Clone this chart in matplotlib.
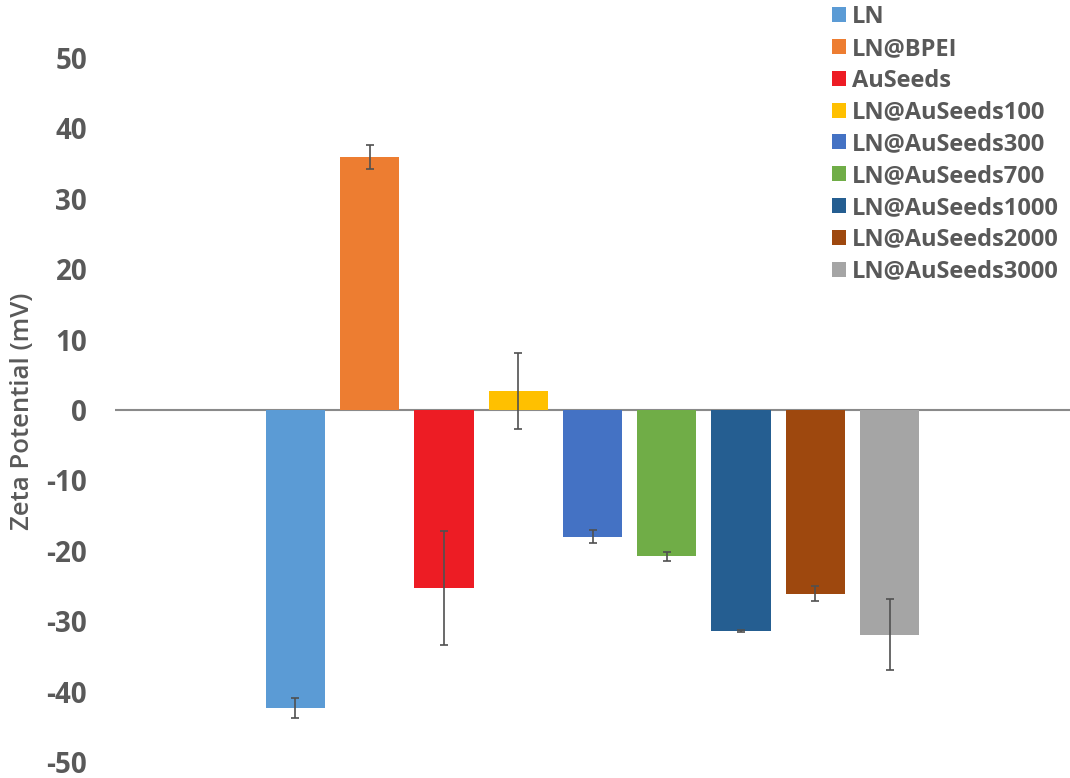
import matplotlib.pyplot as plt
import numpy as np

plt.rcParams['font.family'] = ['Open Sans', 'DejaVu Sans']

samples = ["LN", "LN@BPEI", "AuSeeds", "LN@AuSeeds100", "LN@AuSeeds300",
           "LN@AuSeeds700", "LN@AuSeeds1000", "LN@AuSeeds2000", "LN@AuSeeds3000"]
zeta = [-42.3, 36.0, -25.3, 2.7, -18.0, -20.8, -31.4, -26.1, -31.9]
zeta_err = [1.4, 1.7, 8.1, 5.4, 0.95, 0.6, 0.2, 1.1, 5.1]
colors = ["#5B9BD5", "#ED7D31", "#ED1C24", "#FFC000", "#4472C4",
          "#70AD47", "#255E91", "#9E480E", "#A5A5A5"]
yticks = [50, 40, 30, 20, 10, 0, -10, -20, -30, -40, -50]

fig = plt.figure(figsize=(10.7, 7.78), dpi=100)
ax = fig.add_axes([115 / 1070, 16 / 778, 1 - 115 / 1070, 704 / 778])

x = np.arange(len(samples))
for i in range(len(samples)):
    ax.bar(x[i], zeta[i], width=0.8, color=colors[i], label=samples[i], zorder=2)
    ax.errorbar(x[i], zeta[i], yerr=zeta_err[i], fmt="none", ecolor="#505050",
                elinewidth=1.2, capsize=3, capthick=1.2, zorder=3)

ax.axhline(0, color="#8a8a8a", lw=1.5, zorder=1)
ax.set_xlim(-2.43, 10.43)
ax.set_ylim(-50, 50)
ax.set_yticks(yticks)
ax.set_yticklabels([str(t) for t in yticks], fontsize=20, fontweight="bold", color="#595959")
ax.tick_params(axis="y", length=0, pad=20)
ax.set_xticks([])
for s in ax.spines.values():
    s.set_visible(False)

fig.text(23 / 1070, 1 - 411 / 778, "Zeta Potential (mV)", rotation=90, ha="center",
         va="center", fontsize=18.5, fontweight="semibold", color="#595959")

leg = ax.legend(loc="upper left", bbox_to_anchor=(832 / 1070, 1 - 5 / 778),
                bbox_transform=fig.transFigure, frameon=False, fontsize=17,
                handlelength=0.6, handleheight=0.6, handletextpad=0.25,
                labelspacing=0.33, borderaxespad=0, borderpad=0)
for t in leg.get_texts():
    t.set_fontweight("bold")
    t.set_color("#595959")

fig.savefig("out.png", dpi=100)
